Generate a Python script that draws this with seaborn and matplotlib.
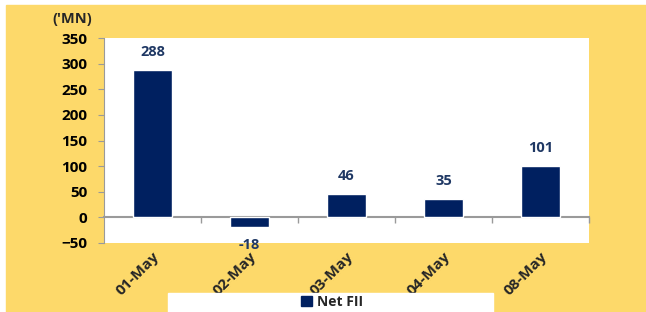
import matplotlib
matplotlib.use('Agg')
import matplotlib.pyplot as plt
from matplotlib.patches import Rectangle
import seaborn as sns
import pandas as pd

# Net FII flows ('MN)
dates = ['01-May', '02-May', '03-May', '04-May', '08-May']
net_fii = [288, -18, 46, 35, 101]

df = pd.DataFrame({'Date': dates, 'Net FII': net_fii})

sns.set_style('white')
plt.rcParams['font.family'] = ['Open Sans', 'DejaVu Sans']
plt.rcParams['font.weight'] = 'bold'

navy = '#002060'
label_col = '#1F3864'
yellow = '#FDD96A'
grey = '#9A9A9A'

fig = plt.figure(figsize=(6.46, 3.12), dpi=100)
fig.patches.append(Rectangle((6 / 646, 0), 640 / 646, 307 / 312,
                             transform=fig.transFigure, color=yellow, zorder=-10))

ax = fig.add_axes([104 / 646, 1 - 243 / 312, 485 / 646, 205 / 312])
ax.set_facecolor('white')
sns.barplot(data=df, x='Date', y='Net FII', color=navy, width=0.41,
            saturation=1, ax=ax, zorder=3)
ax.set_ylim(-50, 350)
ax.set_xlim(-0.5, 4.5)
ax.set_yticks(range(-50, 351, 50))
ax.set_xlabel('')
ax.set_ylabel('')

for s in ['top', 'right']:
    ax.spines[s].set_visible(False)
ax.spines['left'].set_color(grey)
ax.spines['bottom'].set_position(('data', 0))
ax.spines['bottom'].set_color(grey)
ax.spines['bottom'].set_linewidth(1.5)

ax.tick_params(axis='y', left=True, length=4, color=grey, pad=8,
               labelsize=11, labelcolor='black')
for t in ax.get_yticklabels():
    t.set_fontweight('bold')
ax.set_xticks(range(len(dates)))
ax.set_xticklabels(dates, rotation=45, ha='right', rotation_mode='anchor',
                   fontsize=11, fontweight='bold')
ax.tick_params(axis='x', which='major', length=0, pad=23)
ax.set_xticks([i + 0.5 for i in range(len(dates))], minor=True)
ax.tick_params(axis='x', which='minor', bottom=True, length=4, color=grey, width=1)

for c in ax.containers:
    ax.bar_label(c, padding=8, color=label_col, fontsize=10.5, fontweight='bold')

fig.text(52 / 646, 1 - 19 / 312, "('MN)", fontsize=10.5, fontweight='bold',
         va='center', ha='left')

# legend box
fig.patches.append(Rectangle((168 / 646, 0), 325 / 646, 19 / 312,
                             transform=fig.transFigure, color='white', zorder=5))
leg = fig.legend(handles=[Rectangle((0, 0), 1, 1, color=navy)], labels=['Net FII'],
                 loc='center', bbox_to_anchor=(332 / 646, 10 / 312), frameon=False,
                 handlelength=0.8, handleheight=0.8, handletextpad=0.3,
                 prop={'weight': 'bold', 'size': 10})
leg.set_zorder(6)

fig.savefig('out.png', dpi=100, facecolor='white')
